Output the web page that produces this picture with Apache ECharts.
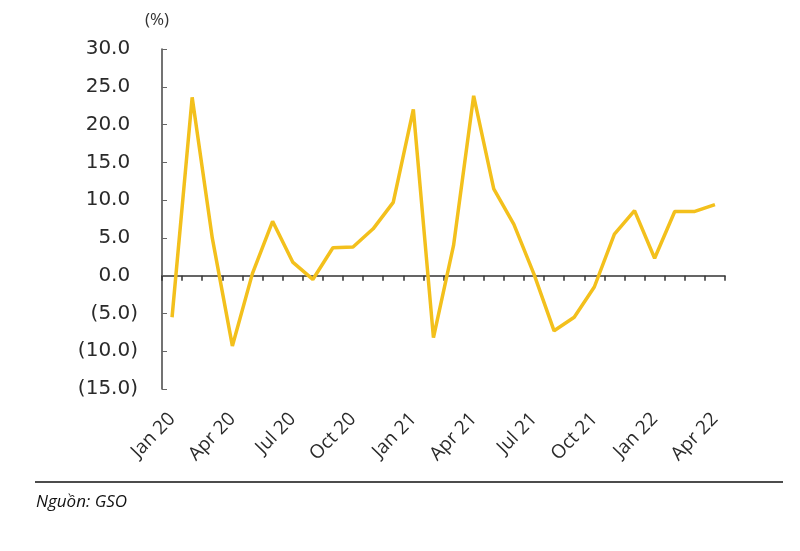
<!DOCTYPE html>
<html>
<head>
<meta charset="utf-8">
<script src="https://cdn.jsdelivr.net/npm/echarts@6/dist/echarts.min.js"></script>
<style>html,body{margin:0;padding:0;background:#fff}#c{width:800px;height:551px}</style>
</head>
<body>
<div id="c"></div>
<script>
const categories = ['Jan 20','Feb 20','Mar 20','Apr 20','May 20','Jun 20','Jul 20','Aug 20','Sep 20','Oct 20','Nov 20','Dec 20',
  'Jan 21','Feb 21','Mar 21','Apr 21','May 21','Jun 21','Jul 21','Aug 21','Sep 21','Oct 21','Nov 21','Dec 21',
  'Jan 22','Feb 22','Mar 22','Apr 22'];
const values = [-5.5, 23.6, 5.0, -9.3, 0.3, 7.2, 1.8, -0.5, 3.7, 3.8, 6.2, 9.7,
  22.0, -8.2, 4.0, 23.8, 11.5, 6.8, 0.2, -7.3, -5.5, -1.5, 5.5, 8.6,
  2.3, 8.5, 8.5, 9.4];
const yTicks = {min: -15, max: 30, interval: 5};
const unitLabel = '(%)';
const sourceText = 'Nguồn: GSO';

const chart = echarts.init(document.getElementById('c'));
chart.setOption({
  animation: false,
  backgroundColor: '#fff',
  grid: {left: 162, right: 75, top: 49, bottom: 162},
  xAxis: [
    {
      type: 'category', data: categories, position: 'bottom', boundaryGap: true,
      axisLine: {show: false, onZero: false}, axisTick: {show: false},
      axisLabel: {interval: 2, rotate: 46, margin: 27, fontFamily: 'Open Sans', fontSize: 19, color: '#2a2a2a'}
    },
    {
      type: 'category', data: categories, boundaryGap: true,
      axisLine: {show: true, onZero: true, onZeroAxisIndex: 0, lineStyle: {color: '#333', width: 1.5}},
      axisTick: {show: true, inside: true, interval: 0, length: 5, lineStyle: {color: '#333', width: 1.5}},
      axisLabel: {show: false}
    }
  ],
  yAxis: {
    type: 'value', min: yTicks.min, max: yTicks.max, interval: yTicks.interval,
    axisLine: {show: true, lineStyle: {color: '#444', width: 1.5}},
    axisTick: {show: true, inside: true, length: 5, lineStyle: {color: '#666'}},
    splitLine: {show: false},
    axisLabel: {
      margin: 24,
      formatter: v => v < 0 ? '{n|(' + Math.abs(v).toFixed(1) + ')}' : '{n|' + v.toFixed(1) + '}{h|)}',
      rich: {
        n: {fontFamily: 'DejaVu Sans', fontSize: 20, color: '#2a2a2a'},
        h: {fontFamily: 'DejaVu Sans', fontSize: 20, color: 'rgba(0,0,0,0)'}
      }
    }
  },
  series: [{
    type: 'line', data: values, xAxisIndex: 0, symbol: 'none',
    lineStyle: {color: '#F3C01C', width: 3.5}
  }],
  graphic: [
    {type: 'text', left: 145, top: 12, style: {text: unitLabel, font: '17px "Open Sans"', fill: '#333'}},
    {type: 'line', shape: {x1: 35, y1: 482, x2: 783, y2: 482}, style: {stroke: '#111', lineWidth: 1.5}},
    {type: 'text', left: 36, top: 494, style: {text: sourceText, font: 'italic 17px "Open Sans"', fill: '#111'}}
  ]
});
</script>
</body>
</html>
